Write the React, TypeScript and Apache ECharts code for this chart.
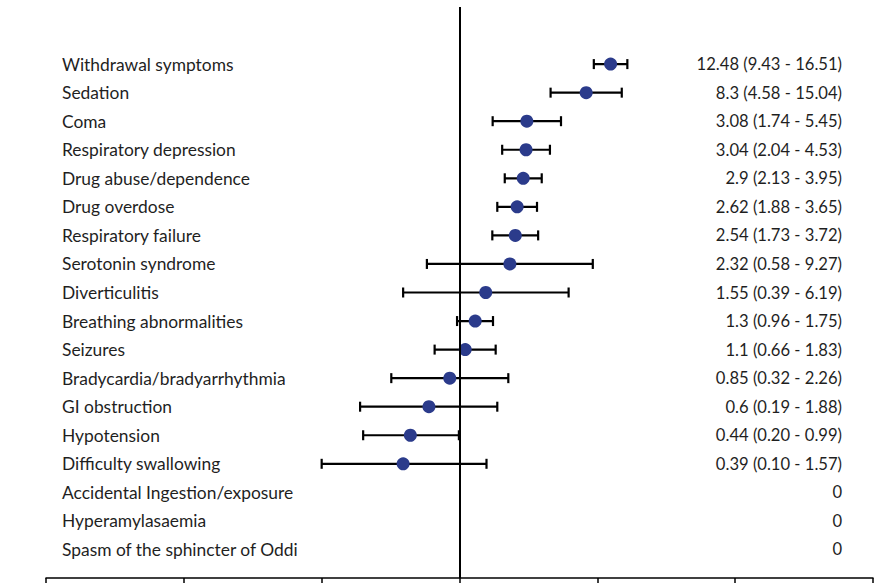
import React, { useEffect, useRef } from "react";
import * as echarts from "echarts";

// Rows, top to bottom
const categories = [
  "Withdrawal symptoms",
  "Sedation",
  "Coma",
  "Respiratory depression",
  "Drug abuse/dependence",
  "Drug overdose",
  "Respiratory failure",
  "Serotonin syndrome",
  "Diverticulitis",
  "Breathing abnormalities",
  "Seizures",
  "Bradycardia/bradyarrhythmia",
  "GI obstruction",
  "Hypotension",
  "Difficulty swallowing",
  "Accidental Ingestion/exposure",
  "Hyperamylasaemia",
  "Spasm of the sphincter of Oddi",
];
const estimates: (number | null)[] = [
  12.48, 8.3, 3.08, 3.04, 2.9, 2.62, 2.54, 2.32, 1.55, 1.3, 1.1, 0.85, 0.6, 0.44, 0.39, null, null, null,
];
const lowers: (number | null)[] = [
  9.43, 4.58, 1.74, 2.04, 2.13, 1.88, 1.73, 0.58, 0.39, 0.96, 0.66, 0.32, 0.19, 0.2, 0.1, null, null, null,
];
const uppers: (number | null)[] = [
  16.51, 15.04, 5.45, 4.53, 3.95, 3.65, 3.72, 9.27, 6.19, 1.75, 1.83, 2.26, 1.88, 0.99, 1.57, null, null, null,
];
const rightLabels = [
  "12.48 (9.43 - 16.51)",
  "8.3 (4.58 - 15.04)",
  "3.08 (1.74 - 5.45)",
  "3.04 (2.04 - 4.53)",
  "2.9 (2.13 - 3.95)",
  "2.62 (1.88 - 3.65)",
  "2.54 (1.73 - 3.72)",
  "2.32 (0.58 - 9.27)",
  "1.55 (0.39 - 6.19)",
  "1.3 (0.96 - 1.75)",
  "1.1 (0.66 - 1.83)",
  "0.85 (0.32 - 2.26)",
  "0.6 (0.19 - 1.88)",
  "0.44 (0.20 - 0.99)",
  "0.39 (0.10 - 1.57)",
  "0",
  "0",
  "0",
];
const xMin = 0.001;
const xMax = 1000;
const refValue = 1;
const yMax = 20;

export default function App() {
  const ref = useRef<HTMLDivElement>(null);
  useEffect(() => {
    document.body.style.margin = "0";
    if (!ref.current) return;
    const chart = echarts.init(ref.current, undefined, { renderer: "svg" });
    const n = categories.length;
    // row r (0 = top) sits at y = n - r
    const yPos = (r: number) => n - r;
    const rowOf = (v: number) => {
      const r = n - Math.round(v);
      return r >= 0 && r < n && Math.abs(v - Math.round(v)) < 1e-6 ? r : -1;
    };
    const barData: any[] = [];
    const pointData: any[] = [];
    for (let r = 0; r < n; r++) {
      if (estimates[r] != null) {
        barData.push([lowers[r], uppers[r], yPos(r)]);
        pointData.push([estimates[r], yPos(r)]);
      }
    }
    const labelFont = {
      fontFamily: "Lato, 'Noto Sans', sans-serif",
      color: "#1f1f1f",
    };
    const baseY = {
      type: "value",
      min: 0,
      max: yMax,
      interval: 1,
      axisLine: { show: false },
      axisTick: { show: false },
      splitLine: { show: false },
    };
    chart.setOption({
      animation: false,
      grid: { left: 46, right: 18, top: 7, bottom: 5 },
      xAxis: {
        type: "log",
        logBase: 10,
        min: xMin,
        max: xMax,
        axisLine: { show: true, lineStyle: { color: "#000", width: 1.5 } },
        axisTick: { show: true, length: 8, lineStyle: { color: "#000", width: 1.5 } },
        axisLabel: { show: false },
        splitLine: { show: false },
      },
      yAxis: [
        {
          ...baseY,
          position: "left",
          axisLabel: {
            ...labelFont,
            fontSize: 17.4,
            align: "left",
            margin: -16,
            formatter: (v: number) => {
              const r = rowOf(v);
              return r >= 0 ? categories[r] : "";
            },
          },
        },
        {
          ...baseY,
          position: "right",
          axisLabel: {
            ...labelFont,
            fontSize: 16.6,
            align: "right",
            margin: -31,
            formatter: (v: number) => {
              const r = rowOf(v);
              return r >= 0 ? rightLabels[r] : "";
            },
          },
        },
      ],
      series: [
        {
          type: "custom",
          yAxisIndex: 0,
          z: 2,
          data: barData,
          encode: { x: [0, 1], y: 2 },
          renderItem: (params: any, api: any) => {
            const lo = api.coord([api.value(0), api.value(2)]);
            const hi = api.coord([api.value(1), api.value(2)]);
            const h = 5;
            const style = { stroke: "#000", lineWidth: 2.2 };
            return {
              type: "group",
              children: [
                { type: "line", shape: { x1: lo[0], y1: lo[1], x2: hi[0], y2: hi[1] }, style },
                { type: "line", shape: { x1: lo[0], y1: lo[1] - h, x2: lo[0], y2: lo[1] + h }, style },
                { type: "line", shape: { x1: hi[0], y1: hi[1] - h, x2: hi[0], y2: hi[1] + h }, style },
              ],
            };
          },
        },
        {
          type: "scatter",
          yAxisIndex: 0,
          z: 3,
          data: pointData,
          symbol: "circle",
          symbolSize: 13,
          itemStyle: { color: "#2B3B8B", opacity: 1 },
          markLine: {
            silent: true,
            symbol: "none",
            label: { show: false },
            lineStyle: { color: "#000", width: 2, type: "solid" },
            data: [{ xAxis: refValue }],
          },
        },
      ],
    });
    return () => chart.dispose();
  }, []);
  return <div ref={ref} style={{ width: 891, height: 583 }} />;
}
